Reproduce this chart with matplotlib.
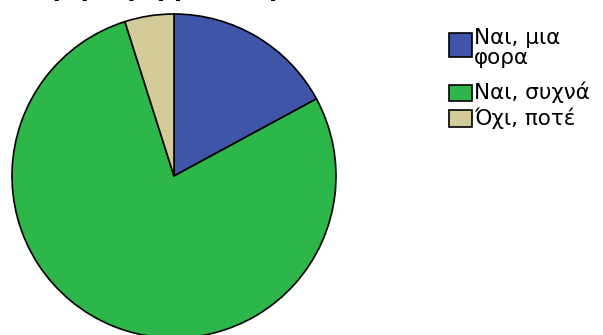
import matplotlib
matplotlib.use('Agg')
from matplotlib import pyplot as plt
from matplotlib.patches import Rectangle

# data
labels = ['Ναι, μια\nφορα', 'Ναι, συχνά', 'Όχι, ποτέ']
shares = [17.1, 78.0, 4.9]
colors = ['#3f56a8', '#2db64a', '#d3cb9a']
title = 'Αγορά φαρμάκων μέσω διαδικτύου'

plt.rcParams['font.family'] = ['DejaVu Sans']

fig = plt.figure(figsize=(6.03, 3.35), dpi=100)
ax = fig.add_axes([0, 0, 1, 1])
ax.set_xlim(0, 603)
ax.set_ylim(0, 335)
ax.set_aspect('equal')
ax.axis('off')

# pie, in pixel coordinates (y up)
ax.pie(shares, colors=colors, startangle=90, counterclock=False,
       center=(174, 335 - 176), radius=162,
       wedgeprops=dict(edgecolor='black', linewidth=1.2))
ax.set_xlim(0, 603)
ax.set_ylim(0, 335)

# title, mostly outside the picture
ax.text(262, 335 + 4, title, ha='center', va='baseline',
        fontsize=17, fontweight='bold', clip_on=False)

# legend drawn by hand
boxes = [(33, 57), (85, 101), (110, 127)]
text_y = [48, 92, 118]
for (y0, y1), ty, lab, c in zip(boxes, text_y, labels, colors):
    ax.add_patch(Rectangle((449, 335 - y1), 23, y1 - y0,
                           facecolor=c, edgecolor='black', linewidth=1.2))
    ax.text(474, 335 - ty, lab, ha='left', va='center', fontsize=15.5,
            linespacing=0.95)

fig.savefig('out.png', dpi=100)
